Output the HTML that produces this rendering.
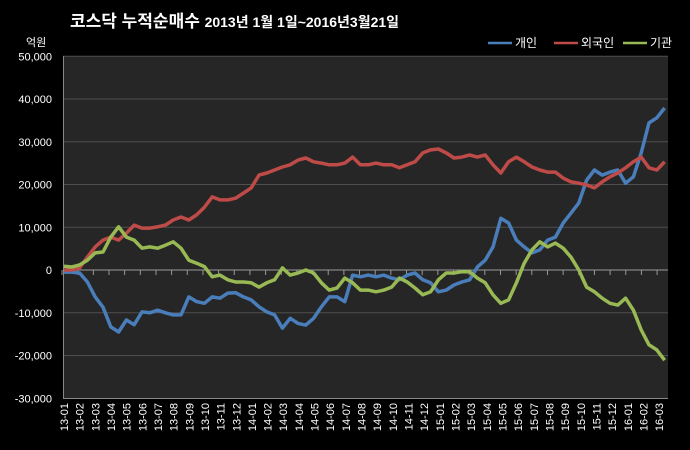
<!DOCTYPE html>
<html><head><meta charset="utf-8"><style>
body{margin:0;background:#000;}
svg{display:block;font-family:"Liberation Sans","Noto Sans CJK KR",sans-serif;}
</style></head><body>
<svg id="c" width="690" height="450" xmlns="http://www.w3.org/2000/svg">
<rect width="690" height="450" fill="#000"/>
<text x="70" y="27" fill="#fff" font-size="17" font-weight="bold">코스닥 누적순매수 <tspan font-size="14">2013년 1월 1일~2016년3월21일</tspan></text>
<text x="26" y="46" fill="#fff" font-size="11">억원</text>
<g>
<line x1="488" y1="43" x2="512" y2="43" stroke="#4a7ebb" stroke-width="2.5"/>
<text x="515" y="47" fill="#fff" font-size="12">개인</text>
<line x1="554" y1="43" x2="578" y2="43" stroke="#be4b48" stroke-width="2.5"/>
<text x="581" y="47" fill="#fff" font-size="12">외국인</text>
<line x1="623" y1="43" x2="647" y2="43" stroke="#98b954" stroke-width="2.5"/>
<text x="650" y="47" fill="#fff" font-size="12">기관</text>
</g>
<rect x="63" y="56" width="605" height="342" fill="#262626"/>
<g id="grid"></g><g id="axes"></g><g id="series"></g>
</svg>
<script>
const yTicks=[50000,40000,30000,20000,10000,0,-10000,-20000,-30000];
const months=["13-01","13-02","13-03","13-04","13-05","13-06","13-07","13-08","13-09","13-10","13-11","13-12","14-01","14-02","14-03","14-04","14-05","14-06","14-07","14-08","14-09","14-10","14-11","14-12","15-01","15-02","15-03","15-04","15-05","15-06","15-07","15-08","15-09","15-10","15-11","15-12","16-01","16-02","16-03"];
const individual=[-500,-500,-700,-2800,-6300,-8700,-13300,-14500,-11700,-12800,-9800,-10000,-9400,-10000,-10500,-10500,-6300,-7400,-7800,-6300,-6600,-5400,-5300,-6300,-7000,-8600,-9800,-10500,-13600,-11300,-12500,-12900,-11300,-8600,-6300,-6300,-7400,-1200,-1600,-1200,-1600,-1200,-1900,-2300,-1200,-700,-2300,-3000,-5100,-4700,-3500,-2800,-2300,700,2300,5400,12100,11000,7000,5400,4000,4700,7000,7700,11000,13300,15700,21000,23400,22200,22900,23400,20300,21800,27400,34400,35600,37900];
const foreign=[0,0,500,3000,5400,7000,7700,7000,8600,10500,9800,9800,10100,10500,11700,12400,11700,12900,14700,17100,16400,16400,16800,18000,19200,22200,22700,23400,24100,24600,25700,26200,25300,25000,24600,24600,25000,26400,24600,24600,25000,24600,24600,23900,24600,25300,27400,28100,28300,27400,26200,26400,26900,26400,26900,24600,22700,25300,26400,25300,24100,23400,22900,22900,21500,20600,20300,19900,19200,20600,21800,22700,23900,25300,26400,23900,23400,25300];
const institution=[900,700,1200,2300,4000,4200,7700,10100,7700,7000,5100,5400,5100,5800,6600,5100,2300,1600,800,-1600,-1200,-2300,-2800,-2800,-3000,-4000,-3000,-2300,500,-1200,-700,0,-700,-3000,-4700,-4200,-1900,-3000,-4700,-4700,-5100,-4700,-4000,-1900,-2800,-4200,-5800,-5100,-2300,-700,-700,-400,-400,-1900,-3000,-5800,-7800,-7000,-3000,1600,4700,6600,5400,6300,5100,3000,0,-4000,-5100,-6600,-7800,-8200,-6600,-9400,-14000,-17500,-18700,-21100];
const NS="http://www.w3.org/2000/svg";
const yScale=v=>270-v*0.004275;
const xScale=i=>64+i*7.8;
const mx=k=>62+k*15.66;
function mk(tag,attrs,parent){const e=document.createElementNS(NS,tag);for(const k in attrs)e.setAttribute(k,attrs[k]);parent.appendChild(e);return e;}
const grid=document.getElementById('grid'),axes=document.getElementById('axes'),series=document.getElementById('series');
yTicks.forEach(v=>{
  const y=yScale(v);
  if(v!==0&&v!==-30000){const l=mk('line',{x1:63,x2:668,y1:y,y2:y,stroke:'#4f4f4f','stroke-width':1},grid);
  
  }
  const t=mk('text',{x:52,y:y+4,fill:'#fff','font-size':11,'text-anchor':'end'},axes);
  
  
  t.textContent=v.toLocaleString('en-US');
});
const va=mk('line',{x1:63.5,x2:63.5,y1:56,y2:398,stroke:'#888','stroke-width':1},axes);


const za=mk('line',{x1:63,x2:668,y1:270,y2:270,stroke:'#999','stroke-width':1},axes);


const ba=mk('line',{x1:63,x2:668,y1:398.5,y2:398.5,stroke:'#888','stroke-width':1},axes);


months.forEach((m,k)=>{
  const x=mx(k);
  const tk=mk('line',{x1:x,x2:x,y1:270,y2:275,stroke:'#999','stroke-width':1},axes);
  
  
  const t=mk('text',{x:0,y:0,fill:'#fff','font-size':11,'text-anchor':'end',transform:`translate(${x+6},403) rotate(-90)`},axes);
  
  
  t.textContent=m;
});
[[individual,'#4a7ebb','line-individual'],[foreign,'#be4b48','line-foreign'],[institution,'#98b954','line-institution']].forEach(([d,c,n])=>{
  const p=mk('polyline',{points:d.map((v,i)=>xScale(i).toFixed(1)+','+yScale(v).toFixed(1)).join(' '),fill:'none',stroke:c,'stroke-width':3.5,'stroke-linejoin':'round'},series);
  
  
});
</script>
</body></html>
